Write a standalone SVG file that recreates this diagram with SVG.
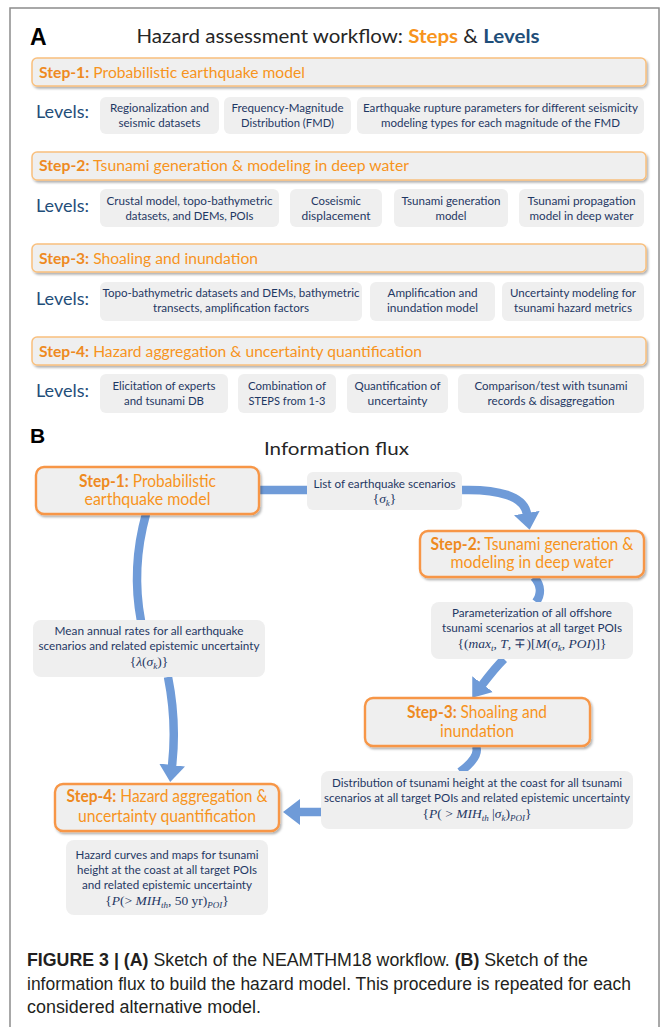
<svg xmlns="http://www.w3.org/2000/svg" width="664" height="1027" viewBox="0 0 664 1027">
<defs>
<style>
.t{font-family:Lato,"Open Sans","Liberation Sans",sans-serif}
.lvl{font-family:Lato,"Open Sans",sans-serif;font-size:17px;fill:#1f4e79}
.box{fill:#efefef}
.bt{font-family:Lato,"Open Sans",sans-serif;font-size:11px;fill:#1f3864;text-anchor:middle}
.bar{fill:#efefef;stroke:#f9c07e;stroke-width:1.5}
.st{font-family:Lato,"Open Sans",sans-serif;font-size:14.5px;fill:#f7941d}
.sb{font-weight:700;fill:#ee8a1f}
.node{fill:#efefef;stroke:#f79646;stroke-width:2.4}
.nt{font-family:Lato,"Open Sans",sans-serif;font-size:16.5px;fill:#f7941d;text-anchor:middle}
.flow{fill:none;stroke:#6f9bd8;stroke-width:8.5}
.m{font-family:"Liberation Serif",serif;font-size:13.5px;fill:#1f3864;text-anchor:middle;font-style:italic}
.u{font-style:normal}
.cap{font-family:"Liberation Sans Narrow","Liberation Sans",sans-serif;font-size:17.5px;fill:#231f20}
</style>
<filter id="sh" x="-5%" y="-15%" width="112%" height="150%">
<feDropShadow dx="1.5" dy="2" stdDeviation="1.2" flood-color="#000" flood-opacity="0.3"/>
</filter>
<marker id="ah" viewBox="0 0 17 26" refX="1" refY="13" markerWidth="17" markerHeight="26" markerUnits="userSpaceOnUse" orient="auto">
<path d="M0,0 L17,13 L0,26 z" fill="#6f9bd8"/>
</marker>
</defs>
<rect x="0" y="0" width="664" height="1027" fill="#ffffff"/>
<rect x="10" y="8" width="649" height="1030" fill="none" stroke="#8c8c8c" stroke-width="1.5"/>

<!-- Panel A -->
<g id="panelA-title">
<text x="30" y="45" font-family="Liberation Sans,Arial,sans-serif" font-weight="700" font-size="23" fill="#000">A</text>
<text class="t" x="338" y="43" font-size="19.5" text-anchor="middle" textLength="403" lengthAdjust="spacingAndGlyphs" fill="#262626">Hazard assessment workflow: <tspan font-weight="700" fill="#f7941d">Steps</tspan> &amp; <tspan font-weight="700" fill="#1f4e79">Levels</tspan></text>
</g>

<g id="stepA1">
<rect class="bar" x="32" y="58" width="614" height="28" rx="5" filter="url(#sh)"/>
<text class="st" x="39" y="78" textLength="266" lengthAdjust="spacingAndGlyphs"><tspan class="sb">Step-1:</tspan> Probabilistic earthquake model</text>
</g>
<g id="levels1">
<text class="lvl" x="36" y="118" textLength="53" lengthAdjust="spacingAndGlyphs">Levels:</text>
<rect class="box" x="100" y="97" width="119" height="37" rx="6"/>
<text class="bt" x="159.5" y="112" textLength="99" lengthAdjust="spacingAndGlyphs">Regionalization and</text>
<text class="bt" x="159.5" y="127" textLength="82" lengthAdjust="spacingAndGlyphs">seismic datasets</text>
<rect class="box" x="224" y="97" width="127" height="37" rx="6"/>
<text class="bt" x="287.5" y="112" textLength="112" lengthAdjust="spacingAndGlyphs">Frequency-Magnitude</text>
<text class="bt" x="287.5" y="127" textLength="93" lengthAdjust="spacingAndGlyphs">Distribution (FMD)</text>
<rect class="box" x="357" y="97" width="287" height="37" rx="6"/>
<text class="bt" x="500.5" y="112" textLength="275" lengthAdjust="spacingAndGlyphs">Earthquake rupture parameters for different seismicity</text>
<text class="bt" x="500.5" y="127" textLength="239" lengthAdjust="spacingAndGlyphs">modeling types for each magnitude of the FMD</text>
</g>

<g id="stepA2">
<rect class="bar" x="32" y="152" width="614" height="28" rx="5" filter="url(#sh)"/>
<text class="st" x="39" y="171" textLength="370" lengthAdjust="spacingAndGlyphs"><tspan class="sb">Step-2:</tspan> Tsunami generation &amp; modeling in deep water</text>
</g>
<g id="levels2">
<text class="lvl" x="36" y="212" textLength="53" lengthAdjust="spacingAndGlyphs">Levels:</text>
<rect class="box" x="100" y="189" width="179" height="38" rx="6"/>
<text class="bt" x="189.5" y="205" textLength="166" lengthAdjust="spacingAndGlyphs">Crustal model, topo-bathymetric</text>
<text class="bt" x="189.5" y="220" textLength="128" lengthAdjust="spacingAndGlyphs">datasets, and DEMs, POIs</text>
<rect class="box" x="290" y="189" width="92" height="38" rx="6"/>
<text class="bt" x="336" y="205" textLength="50" lengthAdjust="spacingAndGlyphs">Coseismic</text>
<text class="bt" x="336" y="220" textLength="69" lengthAdjust="spacingAndGlyphs">displacement</text>
<rect class="box" x="394" y="189" width="114" height="38" rx="6"/>
<text class="bt" x="451" y="205" textLength="99" lengthAdjust="spacingAndGlyphs">Tsunami generation</text>
<text class="bt" x="451" y="220" textLength="31" lengthAdjust="spacingAndGlyphs">model</text>
<rect class="box" x="519" y="189" width="125" height="38" rx="6"/>
<text class="bt" x="581.5" y="205" textLength="108" lengthAdjust="spacingAndGlyphs">Tsunami propagation</text>
<text class="bt" x="581.5" y="220" textLength="104" lengthAdjust="spacingAndGlyphs">model in deep water</text>
</g>

<g id="stepA3">
<rect class="bar" x="32" y="244" width="614" height="28" rx="5" filter="url(#sh)"/>
<text class="st" x="39" y="264" textLength="219" lengthAdjust="spacingAndGlyphs"><tspan class="sb">Step-3:</tspan> Shoaling and inundation</text>
</g>
<g id="levels3">
<text class="lvl" x="36" y="305" textLength="53" lengthAdjust="spacingAndGlyphs">Levels:</text>
<rect class="box" x="100" y="282" width="262" height="39" rx="6"/>
<text class="bt" x="231" y="297" textLength="257" lengthAdjust="spacingAndGlyphs">Topo-bathymetric datasets and DEMs, bathymetric</text>
<text class="bt" x="231" y="312" textLength="156" lengthAdjust="spacingAndGlyphs">transects, amplification factors</text>
<rect class="box" x="370" y="282" width="125" height="39" rx="6"/>
<text class="bt" x="432.5" y="297" textLength="90" lengthAdjust="spacingAndGlyphs">Amplification and</text>
<text class="bt" x="432.5" y="312" textLength="91" lengthAdjust="spacingAndGlyphs">inundation model</text>
<rect class="box" x="502" y="282" width="142" height="39" rx="6"/>
<text class="bt" x="573" y="297" textLength="126" lengthAdjust="spacingAndGlyphs">Uncertainty modeling for</text>
<text class="bt" x="573" y="312" textLength="118" lengthAdjust="spacingAndGlyphs">tsunami hazard metrics</text>
</g>

<g id="stepA4">
<rect class="bar" x="32" y="337" width="614" height="28" rx="5" filter="url(#sh)"/>
<text class="st" x="39" y="357" textLength="383" lengthAdjust="spacingAndGlyphs"><tspan class="sb">Step-4:</tspan> Hazard aggregation &amp; uncertainty quantification</text>
</g>
<g id="levels4">
<text class="lvl" x="36" y="397" textLength="53" lengthAdjust="spacingAndGlyphs">Levels:</text>
<rect class="box" x="100" y="374" width="128" height="39" rx="6"/>
<text class="bt" x="164" y="390" textLength="103" lengthAdjust="spacingAndGlyphs">Elicitation of experts</text>
<text class="bt" x="164" y="405" textLength="80" lengthAdjust="spacingAndGlyphs">and tsunami DB</text>
<rect class="box" x="238" y="374" width="98" height="39" rx="6"/>
<text class="bt" x="287" y="390" textLength="78" lengthAdjust="spacingAndGlyphs">Combination of</text>
<text class="bt" x="287" y="405" textLength="77" lengthAdjust="spacingAndGlyphs">STEPS from 1-3</text>
<rect class="box" x="347" y="374" width="101" height="39" rx="6"/>
<text class="bt" x="397.5" y="390" textLength="86" lengthAdjust="spacingAndGlyphs">Quantification of</text>
<text class="bt" x="397.5" y="405" textLength="60" lengthAdjust="spacingAndGlyphs">uncertainty</text>
<rect class="box" x="458" y="374" width="186" height="39" rx="6"/>
<text class="bt" x="551" y="390" textLength="153" lengthAdjust="spacingAndGlyphs">Comparison/test with tsunami</text>
<text class="bt" x="551" y="405" textLength="127" lengthAdjust="spacingAndGlyphs">records &amp; disaggregation</text>
</g>

<!-- Panel B -->
<g id="panelB-title">
<text x="30" y="443" font-family="Liberation Sans,Arial,sans-serif" font-weight="700" font-size="21" fill="#000">B</text>
<text class="t" x="336.5" y="455" font-size="18" text-anchor="middle" textLength="145" lengthAdjust="spacingAndGlyphs" fill="#262626">Information flux</text>
</g>

<g id="connectors">
<path class="flow" d="M259,490 L307,490" stroke-width="7.5"/>
<path class="flow" d="M462,490 C498,489 524,496 527,514" marker-end="url(#ah)"/>
<path class="flow" d="M534,577 C542,586 541,595 536,602"/>
<path class="flow" d="M504,659 Q495,668 482,685" marker-end="url(#ah)"/>
<path class="flow" d="M476,746 C480,756 468,766 460,772"/>
<path class="flow" d="M322,812 L299,812" marker-end="url(#ah)"/>
<path class="flow" d="M146,514 Q131,568 141,621"/>
<path class="flow" d="M168,677 Q177,722 172,766" marker-end="url(#ah)"/>
</g>

<g id="nodeB1">
<rect class="node" x="36" y="467" width="223" height="47" rx="8" filter="url(#sh)"/>
<text class="nt" x="147.5" y="487" textLength="137" lengthAdjust="spacingAndGlyphs"><tspan class="sb">Step-1:</tspan> Probabilistic</text>
<text class="nt" x="147.5" y="505" textLength="126" lengthAdjust="spacingAndGlyphs">earthquake model</text>
</g>
<g id="label-scenarios">
<rect class="box" x="307" y="472" width="155" height="38" rx="6"/>
<text class="bt" x="384.5" y="488" textLength="142" lengthAdjust="spacingAndGlyphs">List of earthquake scenarios</text>
<text class="m" x="384.5" y="503"><tspan class="u">{</tspan>σ<tspan font-size="9" dy="2.5">k</tspan><tspan class="u" dy="-2.5">}</tspan></text>
</g>
<g id="nodeB2">
<rect class="node" x="420" y="531" width="224" height="46" rx="8" filter="url(#sh)"/>
<text class="nt" x="532" y="550" textLength="203" lengthAdjust="spacingAndGlyphs"><tspan class="sb">Step-2:</tspan> Tsunami generation &amp;</text>
<text class="nt" x="532" y="568" textLength="163" lengthAdjust="spacingAndGlyphs">modeling in deep water</text>
</g>
<g id="label-parameterization">
<rect class="box" x="431" y="602" width="202" height="57" rx="8"/>
<text class="bt" x="532" y="617" textLength="160" lengthAdjust="spacingAndGlyphs">Parameterization of all offshore</text>
<text class="bt" x="532" y="632" textLength="180" lengthAdjust="spacingAndGlyphs">tsunami scenarios at all target POIs</text>
<text class="m" x="532" y="648"><tspan class="u">{(</tspan>max<tspan font-size="9" dy="2.5">t</tspan><tspan class="u" dy="-2.5">, </tspan>T<tspan class="u">, ∓)[</tspan>M<tspan class="u">(</tspan>σ<tspan font-size="9" dy="2.5">k</tspan><tspan class="u" dy="-2.5">, </tspan>POI<tspan class="u">)]}</tspan></text>
</g>
<g id="label-rates">
<rect class="box" x="33" y="620" width="232" height="57" rx="8"/>
<text class="bt" x="149" y="635" textLength="189" lengthAdjust="spacingAndGlyphs">Mean annual rates for all earthquake</text>
<text class="bt" x="149" y="650" textLength="221" lengthAdjust="spacingAndGlyphs">scenarios and related epistemic uncertainty</text>
<text class="m" x="149" y="666"><tspan class="u">{</tspan>λ<tspan class="u">(</tspan>σ<tspan font-size="9" dy="2.5">k</tspan><tspan class="u" dy="-2.5">)}</tspan></text>
</g>
<g id="nodeB3">
<rect class="node" x="365" y="698" width="225" height="48" rx="8" filter="url(#sh)"/>
<text class="nt" x="477" y="718" textLength="140" lengthAdjust="spacingAndGlyphs"><tspan class="sb">Step-3:</tspan> Shoaling and</text>
<text class="nt" x="477" y="737" textLength="74" lengthAdjust="spacingAndGlyphs">inundation</text>
</g>
<g id="label-distribution">
<rect class="box" x="321" y="771" width="312" height="58" rx="8"/>
<text class="bt" x="477" y="787" textLength="290" lengthAdjust="spacingAndGlyphs">Distribution of tsunami height at the coast for all tsunami</text>
<text class="bt" x="477" y="802" textLength="306" lengthAdjust="spacingAndGlyphs">scenarios at all target POIs and related epistemic uncertainty</text>
<text class="m" x="477" y="818"><tspan class="u">{</tspan>P<tspan class="u">( &gt; </tspan>MIH<tspan font-size="9" dy="2.5">th</tspan><tspan class="u" dy="-2.5"> |</tspan>σ<tspan font-size="9" dy="2.5">k</tspan><tspan class="u" dy="-2.5">)</tspan><tspan font-size="9" dy="3">POI</tspan><tspan class="u" dy="-3">}</tspan></text>
</g>
<g id="nodeB4">
<rect class="node" x="55" y="784" width="224" height="47" rx="8" filter="url(#sh)"/>
<text class="nt" x="167" y="802" textLength="201" lengthAdjust="spacingAndGlyphs"><tspan class="sb">Step-4:</tspan> Hazard aggregation &amp;</text>
<text class="nt" x="167" y="822" textLength="178" lengthAdjust="spacingAndGlyphs">uncertainty quantification</text>
</g>
<g id="label-hazard">
<rect class="box" x="66" y="840" width="202" height="75" rx="8"/>
<text class="bt" x="167" y="859" textLength="183" lengthAdjust="spacingAndGlyphs">Hazard curves and maps for tsunami</text>
<text class="bt" x="167" y="874" textLength="180" lengthAdjust="spacingAndGlyphs">height at the coast at all target POIs</text>
<text class="bt" x="167" y="889" textLength="170" lengthAdjust="spacingAndGlyphs">and related epistemic uncertainty</text>
<text class="m" x="167" y="905"><tspan class="u">{</tspan>P<tspan class="u">(&gt; </tspan>MIH<tspan font-size="9" dy="2.5">th</tspan><tspan class="u" dy="-2.5">, 50 yr)</tspan><tspan font-size="9" dy="3">POI</tspan><tspan class="u" dy="-3">}</tspan></text>
</g>

<g id="caption">
<text class="cap" x="27" y="966" textLength="561" lengthAdjust="spacingAndGlyphs"><tspan font-weight="700">FIGURE 3 | (A)</tspan> Sketch of the NEAMTHM18 workflow. <tspan font-weight="700">(B)</tspan> Sketch of the</text>
<text class="cap" x="27" y="990" textLength="604" lengthAdjust="spacingAndGlyphs">information flux to build the hazard model. This procedure is repeated for each</text>
<text class="cap" x="27" y="1013" textLength="234" lengthAdjust="spacingAndGlyphs">considered alternative model.</text>
</g>
</svg>
